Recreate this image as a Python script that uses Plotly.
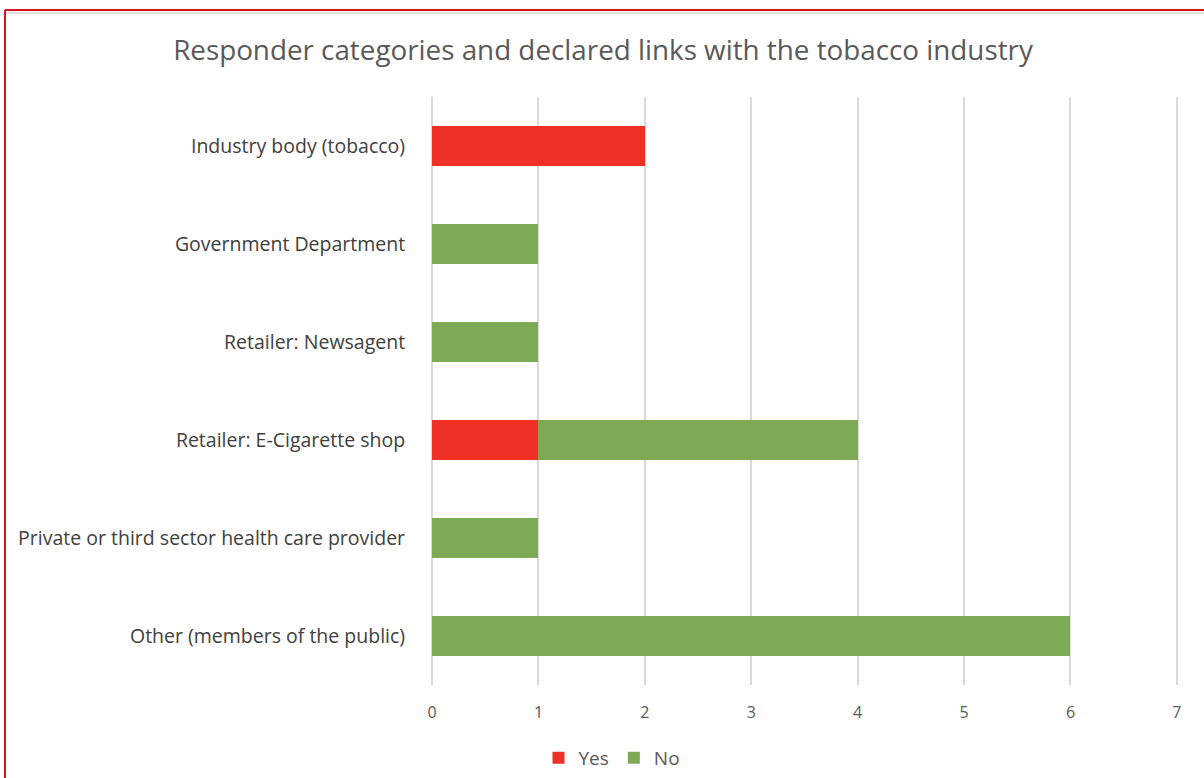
import plotly.graph_objects as go

categories = [
    "Industry body (tobacco)",
    "Government Department",
    "Retailer: Newsagent",
    "Retailer: E-Cigarette shop",
    "Private or third sector health care provider",
    "Other (members of the public)",
]
yes_values = [2, 0, 0, 1, 0, 0]
no_values = [0, 1, 1, 3, 1, 6]
x_ticks = [0, 1, 2, 3, 4, 5, 6, 7]

W, H = 1204, 778
L, R, T, B = 431, 25, 97, 93
pw, ph = W - L - R, H - T - B

def px(x):
    return (x - L) / pw

def py(y):
    return (H - B - y) / ph

fig = go.Figure()
fig.add_trace(go.Bar(y=categories, x=yes_values, name="Yes", orientation="h",
                     marker=dict(color="#EE3124", line=dict(width=0))))
fig.add_trace(go.Bar(y=categories, x=no_values, name="No", orientation="h",
                     marker=dict(color="#7EAA55", line=dict(width=0))))

fig.update_layout(
    width=W, height=H,
    barmode="stack", bargap=0.59,
    paper_bgcolor="white", plot_bgcolor="white",
    margin=dict(l=L, r=R, t=T, b=B),
    font=dict(family="Open Sans, Lato, sans-serif", color="#595959"),
    title=dict(text="Responder categories and declared links with the tobacco industry",
               x=603 / W, xref="container", xanchor="center",
               y=1 - 50 / H, yanchor="middle",
               font=dict(size=27.8, color="#595959")),
    xaxis=dict(range=[-0.01, 7.02], tickvals=x_ticks, showgrid=True, gridcolor="#D9D9D9",
               gridwidth=1.5, zeroline=True, zerolinecolor="#D9D9D9", zerolinewidth=1.5,
               showline=False, layer="below traces",
               ticks="outside", ticklen=13, tickcolor="white",
               tickfont=dict(size=16, color="#595959")),
    yaxis=dict(autorange="reversed", showgrid=False, showline=False, zeroline=False,
               ticks="outside", ticklen=21, tickcolor="white",
               tickfont=dict(size=19.5, color="#404040")),
    legend=dict(orientation="h", xref="container", x=0.5 + 10 / W, xanchor="center",
                yref="container", y=1 - 758 / H, yanchor="middle",
                font=dict(size=19, color="#595959"), traceorder="normal"),
    shapes=[
        dict(type="line", xref="paper", yref="paper",
             x0=px(5), x1=px(1204), y0=py(13), y1=py(13),
             line=dict(color="#E0E0E0", width=2)),
        dict(type="line", xref="paper", yref="paper",
             x0=px(5), x1=px(1204), y0=py(10), y1=py(10),
             line=dict(color="#D0161E", width=2)),
        dict(type="line", xref="paper", yref="paper",
             x0=px(5), x1=px(5), y0=py(10), y1=py(778),
             line=dict(color="#D0161E", width=2)),
    ],
)

fig.write_html("out.html")
